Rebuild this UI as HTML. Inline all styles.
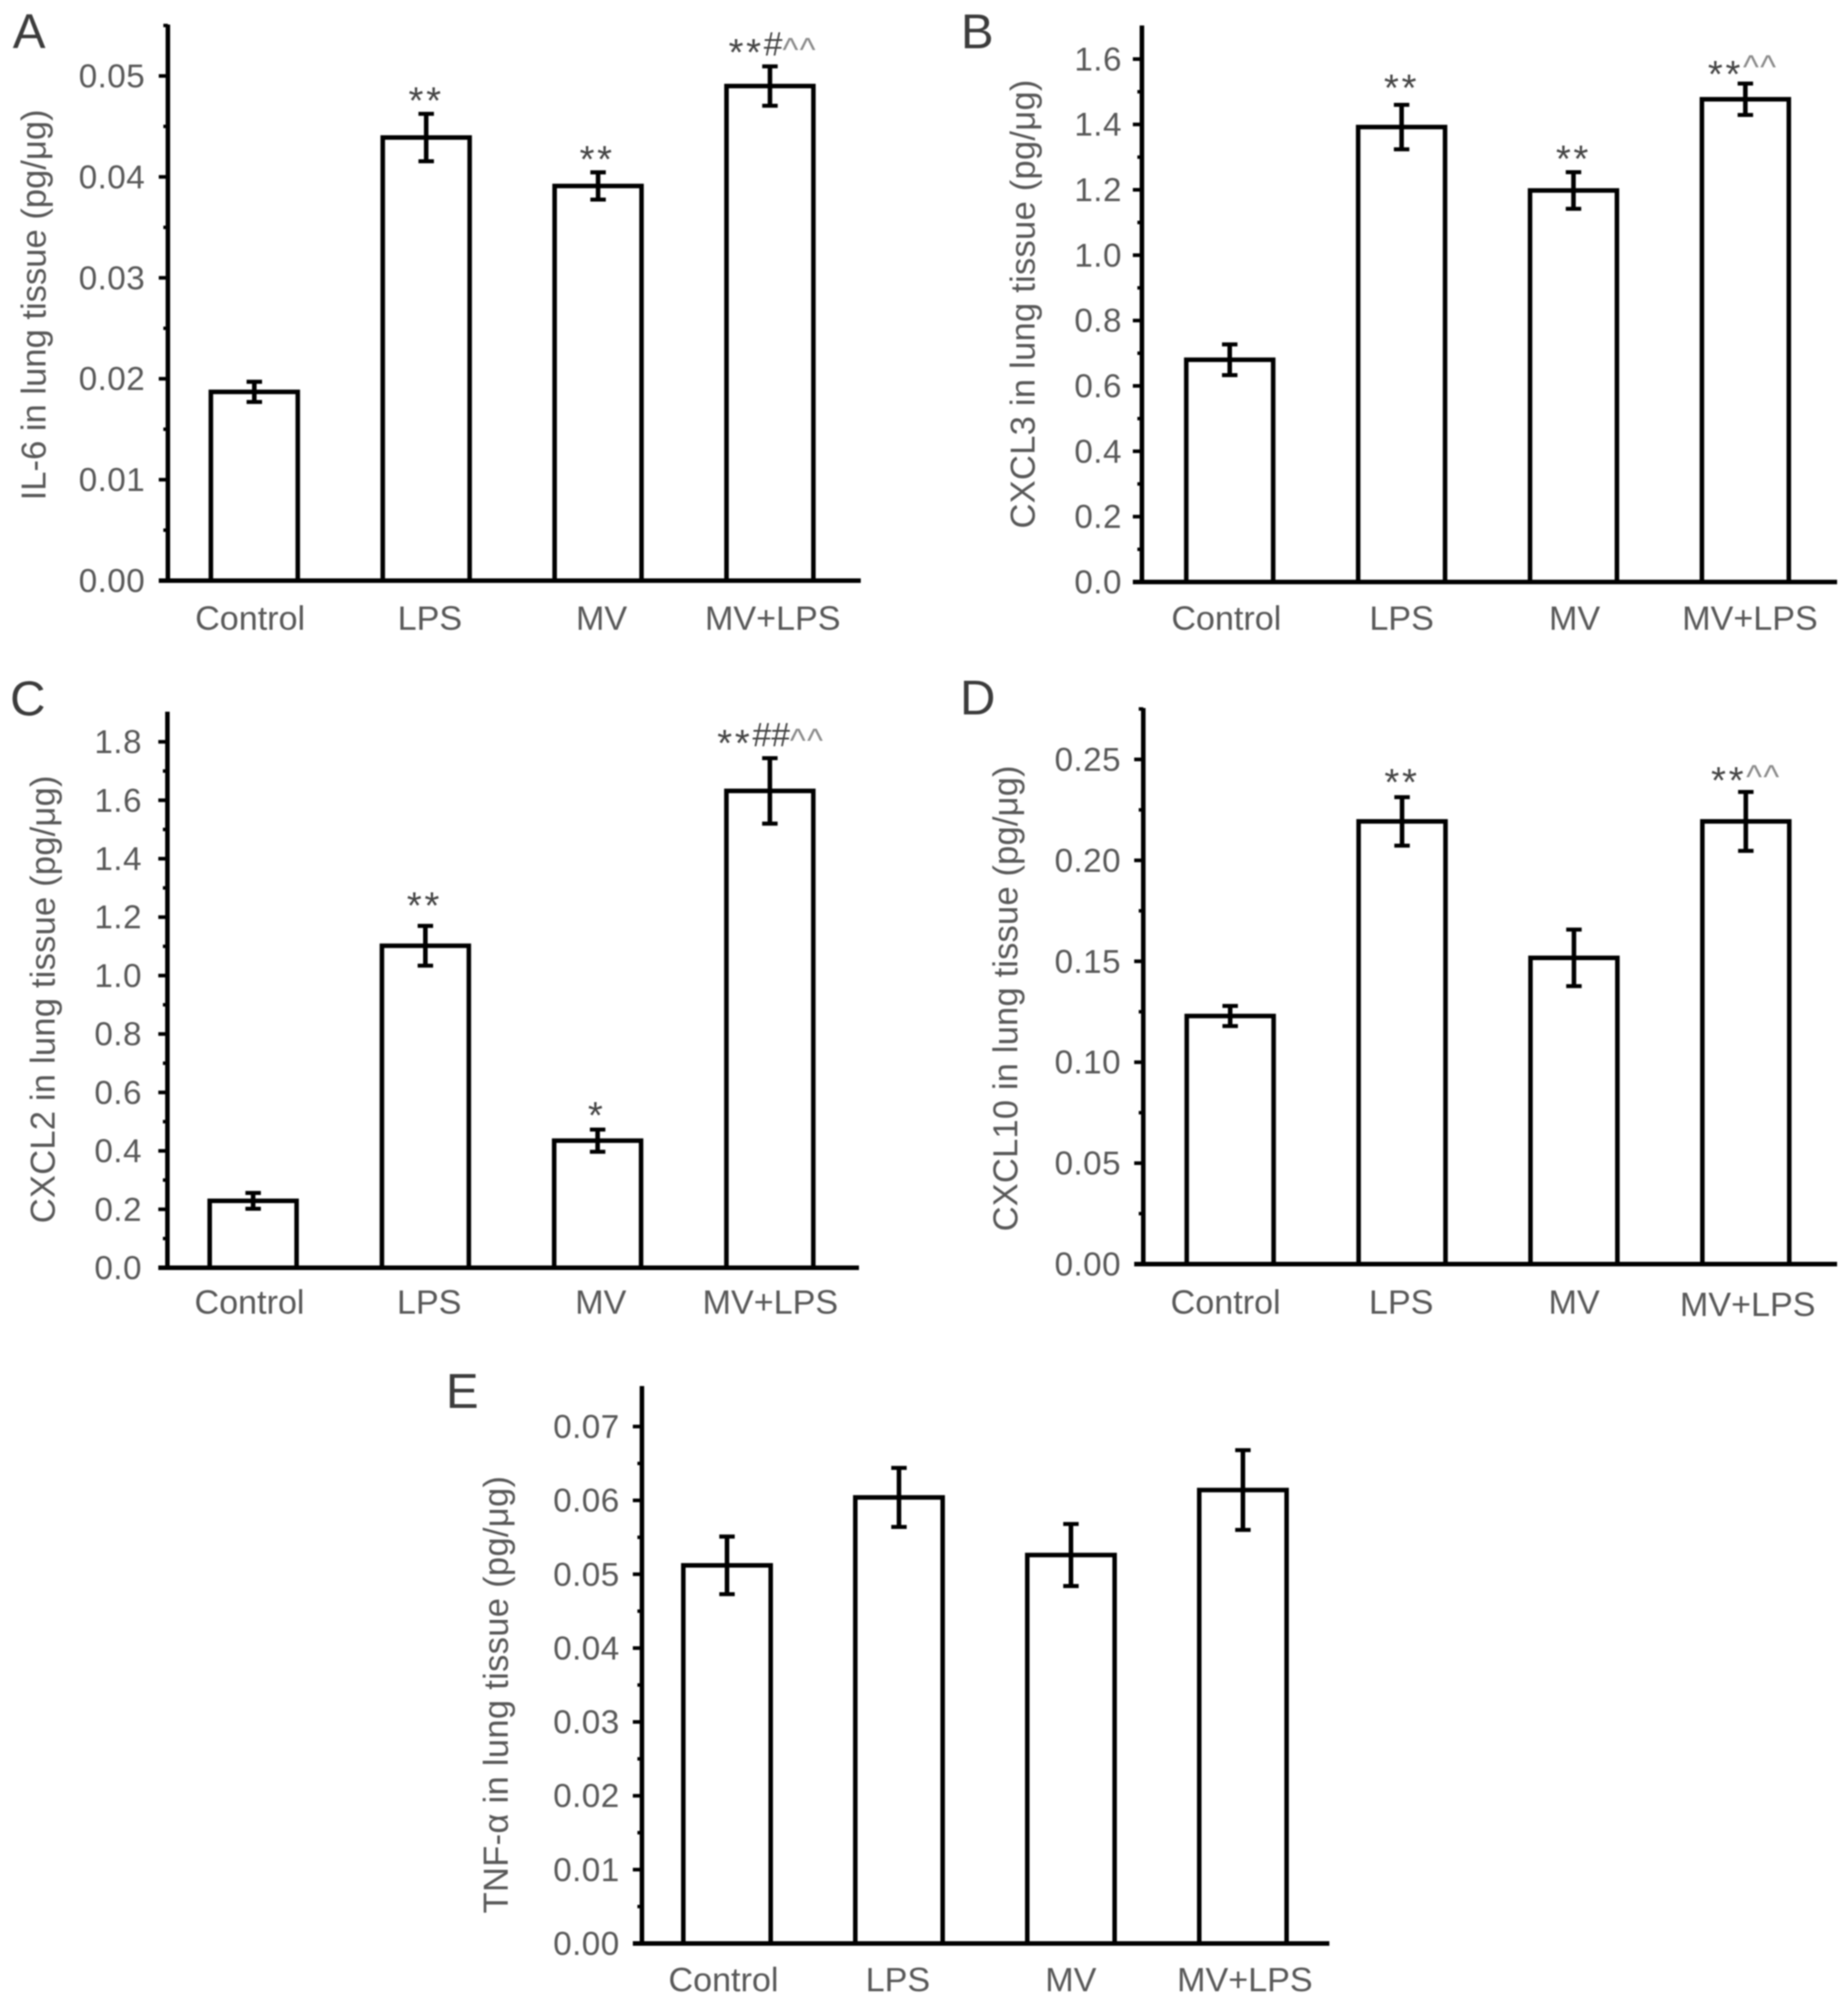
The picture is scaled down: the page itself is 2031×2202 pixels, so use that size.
<!DOCTYPE html>
<html lang="en">
<head>
<meta charset="utf-8">
<title>Cytokines in lung tissue</title>
<style>
html,body{margin:0;padding:0;background:#fff;width:2031px;height:2202px;overflow:hidden}
svg{display:block;filter:blur(0.9px)}
text{font-family:"Liberation Sans",sans-serif;fill:#585858}
.letter{fill:#3c3c3c;font-size:54px}
</style>
</head>
<body>
<svg id="figure" xmlns="http://www.w3.org/2000/svg" width="2031" height="2202" viewBox="0 0 2031 2202"></svg>
<script>
const categories = ['Control', 'LPS', 'MV', 'MV+LPS'];

const aTicks = ['0.00', '0.01', '0.02', '0.03', '0.04', '0.05'];
const aValues = [0.0187, 0.0439, 0.0391, 0.0490];
const aErrors = [0.0010, 0.00235, 0.00135, 0.00195];
const aMarks = ['', '**', '**', '**#^^'];

const bTicks = ['0.0', '0.2', '0.4', '0.6', '0.8', '1.0', '1.2', '1.4', '1.6'];
const bValues = [0.680, 1.392, 1.198, 1.477];
const bErrors = [0.047, 0.068, 0.056, 0.048];
const bMarks = ['', '**', '**', '**^^'];

const cTicks = ['0.0', '0.2', '0.4', '0.6', '0.8', '1.0', '1.2', '1.4', '1.6', '1.8'];
const cValues = [0.229, 1.102, 0.435, 1.632];
const cErrors = [0.027, 0.068, 0.038, 0.112];
const cMarks = ['', '**', '*', '**##^^'];

const dTicks = ['0.00', '0.05', '0.10', '0.15', '0.20', '0.25'];
const dValues = [0.1229, 0.2193, 0.1517, 0.2193];
const dErrors = [0.0050, 0.0120, 0.0140, 0.0146];
const dMarks = ['', '**', '', '**^^'];

const eTicks = ['0.00', '0.01', '0.02', '0.03', '0.04', '0.05', '0.06', '0.07'];
const eValues = [0.0512, 0.0604, 0.0526, 0.0614];
const eErrors = [0.0039, 0.0040, 0.0042, 0.0054];
const eMarks = ['', '', '', ''];

const panels = [
  {id:'a', letter:'A', letterX:14, letterY:53, title:'IL-6 in lung tissue (pg/\u03bcg)', titleSpacing:0, ticks:aTicks, values:aValues, errors:aErrors, marks:aMarks,
   axisX:184.5, axisEnd:946, y0:638, top:28, axisTop:28, max:0.055, first:279.5, step:188.9, barW:95.5, tickRight:159.5, titleX:50, titleY:335,
   labelY:692, labelDx:[-4.6,4.1,3.8,3.1], labelDy:[0,0,0,0], gaps:[0,22,22,23], caretLift:0, markDx:[0,0,-1,3]},
  {id:'b', letter:'B', letterX:1056, letterY:53, title:'CXCL3 in lung tissue (pg/\u03bcg)', titleSpacing:0.25, ticks:bTicks, values:bValues, errors:bErrors, marks:bMarks,
   axisX:1255, axisEnd:2019, y0:639.5, top:29, axisTop:29, max:1.7, first:1351.5, step:188.9, barW:95.5, tickRight:1233, titleX:1137, titleY:334,
   labelY:692, labelDx:[-3.7,0,1.2,5.1], labelDy:[0,0,0,0], gaps:[0,26,22,18], caretLift:5, markDx:[0,0,0,-3]},
  {id:'c', letter:'C', letterX:11, letterY:786, title:'CXCL2 in lung tissue (pg/\u03bcg)', titleSpacing:0.2, ticks:cTicks, values:cValues, errors:cErrors, marks:cMarks,
   axisX:184, axisEnd:944, y0:1393, top:783, axisTop:783, max:1.9, first:278.2, step:189.3, barW:95.5, tickRight:156, titleX:60, titleY:1098,
   labelY:1443.5, labelDx:[-4,4.2,3.5,0.5], labelDy:[0,0,0,0], gaps:[0,30,23,24], caretLift:0, markDx:[0,-1,-1,1]},
  {id:'d', letter:'D', letterX:1055, letterY:785, title:'CXCL10 in lung tissue (pg/\u03bcg)', titleSpacing:0.15, ticks:dTicks, values:dValues, errors:dErrors, marks:dMarks,
   axisX:1256.5, axisEnd:2019, y0:1389, top:779, axisTop:779, max:0.275, first:1352, step:188.9, barW:95.5, tickRight:1232, titleX:1118, titleY:1097,
   labelY:1443.5, labelDx:[-5,-0.9,0.2,2.1], labelDy:[0,0,0,2.5], gaps:[0,24,0,20], caretLift:1, markDx:[0,0,0,0]},
  {id:'e', letter:'E', letterX:490, letterY:1547, title:'TNF-\u03b1 in lung tissue (pg/\u03bcg)', titleSpacing:0.3, ticks:eTicks, values:eValues, errors:eErrors, marks:eMarks,
   axisX:705.5, axisEnd:1461, y0:2135.5, top:1526.9, axisTop:1524, max:0.075, first:799, step:189, barW:96, tickRight:681, titleX:558, titleY:1862,
   labelY:2188, labelDx:[-3.9,-1.2,-0.1,2.1], labelDy:[0,0,0,0], gaps:[0,0,0,0], caretLift:0, markDx:[0,0,0,0]}
];

const NS = 'http://www.w3.org/2000/svg';
const figure = document.getElementById('figure');

function node(tag, parent) {
  const el = document.createElementNS(NS, tag);
  parent.appendChild(el);
  return el;
}
function line(el, x1, y1, x2, y2, width) {
  el.setAttribute('x1', x1);
  el.setAttribute('y1', y1);
  el.setAttribute('x2', x2);
  el.setAttribute('y2', y2);
  el.setAttribute('stroke', '#000');
  el.setAttribute('stroke-width', width);
  el.setAttribute('stroke-linecap', 'butt');
}

function drawMark(text, p, cx, cy) {
  const el = node('text', figure);
  
  
  el.setAttribute('text-anchor', 'middle');
  el.setAttribute('x', cx);
  el.setAttribute('y', cy);
  el.setAttribute('font-size', '37');
  el.setAttribute('style', 'fill:#444');
  const runs = text.match(/\*+|#+|\^+/g) || [];
  const shift = {'*': 22, '#': 11, '^': 17 - p.caretLift};
  let current = 0;
  runs.forEach(function (run) {
    const span = node('tspan', el);
    
    
    const want = shift[run[0]];
    span.setAttribute('dy', want - current);
    current = want;
    if (run[0] === '^') {
      span.setAttribute('style', 'fill:#8a8a8a');
      span.setAttribute('letter-spacing', '1.5');
    }
    if (run[0] === '*') {
      span.setAttribute('font-size', '42');
      span.setAttribute('letter-spacing', '3');
    }
    span.textContent = run;
  });
}

panels.forEach(function (p) {
  const yScale = function (v) { return p.y0 - v / p.max * (p.y0 - p.top); };
  const xScale = function (i) { return p.first + i * p.step; };
  const tickValues = p.ticks.map(Number);
  const halfStep = (tickValues[1] - tickValues[0]) / 2;

  const letter = node('text', figure);
  
  
  letter.setAttribute('class', 'letter');
  letter.setAttribute('x', p.letterX);
  letter.setAttribute('y', p.letterY);
  letter.textContent = p.letter;

  const title = node('text', figure);
  
  
  title.setAttribute('font-size', '38');
  title.setAttribute('text-anchor', 'middle');
  title.setAttribute('letter-spacing', p.titleSpacing);
  title.setAttribute('transform', 'translate(' + p.titleX + ' ' + p.titleY + ') rotate(-90)');
  title.textContent = p.title;

  categories.forEach(function (name, i) {
    const bar = node('rect', figure);
    
    
    bar.setAttribute('x', xScale(i) - p.barW / 2);
    bar.setAttribute('y', yScale(p.values[i]));
    bar.setAttribute('width', p.barW);
    bar.setAttribute('height', p.y0 - yScale(p.values[i]));
    bar.setAttribute('fill', '#fff');
    bar.setAttribute('stroke', '#000');
    bar.setAttribute('stroke-width', '5');

    const hi = yScale(p.values[i] + p.errors[i]);
    const lo = yScale(p.values[i] - p.errors[i]);
    const stem = node('line', figure);
    
    
    line(stem, xScale(i), hi, xScale(i), lo, 5);
    const capTop = node('line', figure);
    
    
    line(capTop, xScale(i) - 8.5, hi, xScale(i) + 8.5, hi, 4.4);
    const capLow = node('line', figure);
    
    
    line(capLow, xScale(i) - 8.5, lo, xScale(i) + 8.5, lo, 4.4);

    if (p.marks[i]) {
      drawMark(p.marks[i], p, xScale(i) + p.markDx[i], hi - p.gaps[i]);
    }

    const label = node('text', figure);
    
    
    label.setAttribute('font-size', '37.5');
    label.setAttribute('text-anchor', 'middle');
    label.setAttribute('x', xScale(i) + p.labelDx[i]);
    label.setAttribute('y', p.labelY + p.labelDy[i]);
    label.textContent = name;
  });

  const yAxis = node('line', figure);
  
  
  line(yAxis, p.axisX, p.axisTop - 1, p.axisX, p.y0 + 2, 5);

  const xAxis = node('line', figure);
  
  
  line(xAxis, p.axisX - 10, p.y0, p.axisEnd, p.y0, 5);

  p.ticks.forEach(function (label, i) {
    const y = yScale(tickValues[i]);
    if (i > 0) {
      const tick = node('line', figure);
      
      
      line(tick, p.axisX - 10, y, p.axisX, y, 4);
    }
    const minorValue = tickValues[i] + halfStep;
    if (minorValue <= p.max) {
      const minor = node('line', figure);
      
      
      line(minor, p.axisX - 5, yScale(minorValue), p.axisX, yScale(minorValue), 3.8);
    }
    const text = node('text', figure);
    
    
    text.setAttribute('font-size', '36.5');
    text.setAttribute('letter-spacing', '0.5');
    text.setAttribute('text-anchor', 'end');
    text.setAttribute('x', p.tickRight);
    text.setAttribute('y', y + 12.5);
    text.textContent = label;
  });
});
</script>
</body>
</html>
